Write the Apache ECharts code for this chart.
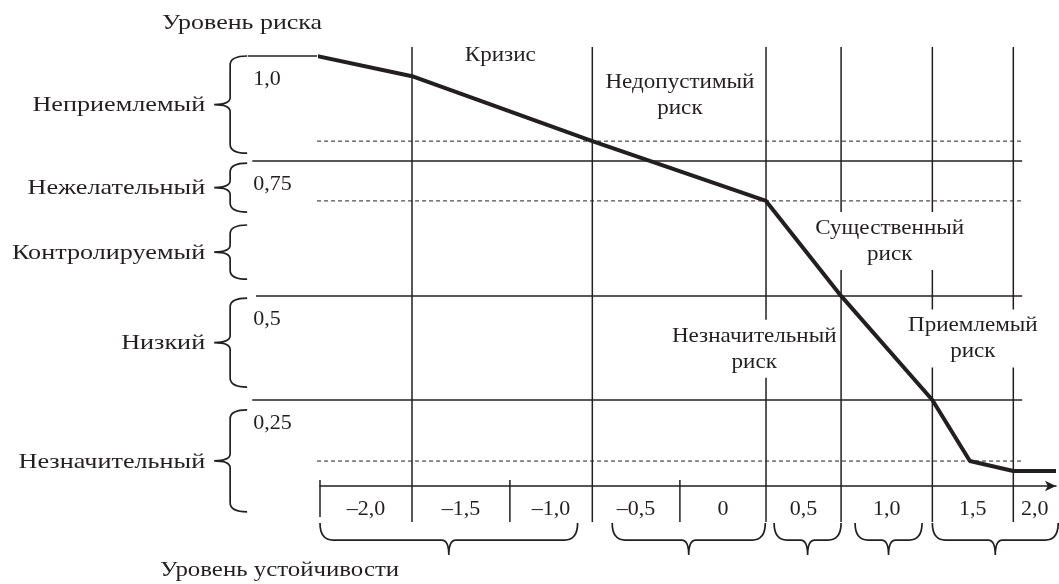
<!DOCTYPE html>
<html><head><meta charset="utf-8">
<script src="https://cdn.jsdelivr.net/npm/echarts@6/dist/echarts.min.js"></script>
<style>html,body{margin:0;background:#fff}#c{width:1059px;height:584px}</style>
</head><body><div id="c"></div>
<script>
// Schematic units: x 0..100 = stability axis (origin .. arrow), y 0..100 = risk axis (x-axis .. level 1,0)
const curveX = [-0.4, 12.5, 37.0, 60.6, 70.8, 83.2, 88.3, 94.2, 100];
const curveY = [100, 95.3, 80.2, 66.3, 44.2, 20.0, 5.8, 3.5, 3.5];

const levelLabels = ['1,0', '0,75', '0,5', '0,25'];
const levelPos = [100, 75.6, 44.2, 20.0];
const levelLineStart = [-9.8, -9.2, -8.7, -9.2];
const levelLineEnd = [-0.4, 95.4, 95.4, 95.4];
const dashedPos = [80.2, 66.3, 5.8];
const dashedRange = [-0.4, 95.4];

const zoneBounds = [12.5, 37.0, 60.6, 70.8, 83.2, 94.2];
const zoneTop = 102.1;
const tickBottom = -8.4;
const cellBounds = [0, 12.5, 25.8, 37.0, 48.9, 60.6, 70.8, 83.2, 94.2, 100];
const stabilityLabels = ['–2,0', '–1,5', '–1,0', '–0,5', '0', '0,5', '1,0', '1,5', '2,0'];
const stabilityGroups = [[0, 35.0], [39.7, 60.5], [61.7, 70.8], [72.7, 81.8], [83.2, 100.3]];

const riskCategories = ['Неприемлемый', 'Нежелательный', 'Контролируемый', 'Низкий', 'Незначительный'];
const riskSpans = [[100, 77.4], [75.1, 63.7], [60.7, 48.1], [43.7, 23.0], [17.7, -6.0]];
const braceX = -9.9;

const zoneNames = ['Кризис', 'Недопустимый\nриск', 'Незначительный\nриск', 'Существенный\nриск', 'Приемлемый\nриск'];
const zoneLabelX = [24.5, 48.9, 59.0, 77.4, 88.7];
const zoneLabelY = [100.2, 90.9, 31.9, 57.0, 34.3];

const INK = '#231f20';
const FF = '"Liberation Serif", "Times New Roman", serif';
const FONT = '22px ' + FF;

// straight segments (x1, y1, x2, y2) with their stroke kind
const segs = [], segKind = [];
levelPos.forEach((p, i) => { segs.push([levelLineStart[i], p, levelLineEnd[i], p]); segKind.push('solid'); });
dashedPos.forEach(p => { segs.push([dashedRange[0], p, dashedRange[1], p]); segKind.push('dash'); });
zoneBounds.forEach(b => { segs.push([b, zoneTop, b, tickBottom]); segKind.push('solid'); });
cellBounds.slice(0, -1).filter(b => zoneBounds.indexOf(b) < 0)
  .forEach(b => { segs.push([b, 1.4, b, b === 0 ? -7.2 : tickBottom]); segKind.push('solid'); });

const series = [];
series.push({
  type: 'custom', clip: false, silent: true, z: 2,
  data: segs,
  renderItem: function (params, api) {
    const a = api.coord([api.value(0), api.value(1)]);
    const b = api.coord([api.value(2), api.value(3)]);
    const dash = segKind[params.dataIndex] === 'dash';
    return {type: 'line', shape: {x1: a[0], y1: a[1], x2: b[0], y2: b[1]},
      style: {stroke: INK, lineWidth: dash ? 1 : 1.5, lineDash: dash ? [4, 3] : null}};
  }
});

series.push({type: 'line', data: curveX.map((x, i) => [x, curveY[i]]), symbol: 'none', clip: false,
  silent: true, lineStyle: {color: INK, width: 4, join: 'round'}, z: 8});

// left braces + risk category names
series.push({
  type: 'custom', clip: false, silent: true, z: 3,
  data: riskSpans,
  renderItem: function (params, api) {
    const p1 = api.coord([braceX, api.value(0)]);
    const p2 = api.coord([braceX, api.value(1)]);
    const x0 = p1[0], y1 = p1[1], y2 = p2[1];
    const vx = x0 - 17, ym = (y1 + y2) / 2, tip = 16, r = 9, r2 = 7;
    const d = `M${x0},${y1} Q${vx},${y1} ${vx},${y1 + r} L${vx},${ym - r2} Q${vx},${ym} ${vx - tip},${ym}` +
      ` Q${vx},${ym} ${vx},${ym + r2} L${vx},${y2 - r} Q${vx},${y2} ${x0},${y2}`;
    return {type: 'group', children: [
      {type: 'path', shape: {pathData: d}, style: {fill: 'none', stroke: INK, lineWidth: 1.7}},
      {type: 'text', x: vx - tip - 9, y: ym + 1, scaleX: 1.19,
        style: {text: riskCategories[params.dataIndex], x: 0, y: 0,
        align: 'right', verticalAlign: 'middle', font: FONT, fill: INK}}
    ]};
  }
});

// bottom braces
series.push({
  type: 'custom', clip: false, silent: true, z: 3,
  data: stabilityGroups,
  renderItem: function (params, api) {
    const p1 = api.coord([api.value(0), tickBottom]);
    const p2 = api.coord([api.value(1), tickBottom]);
    const x1 = p1[0], x2 = p2[0], y0 = p1[1] + 1, ya = y0 + 17, xm = (x1 + x2) / 2, tip = 15, r = 13, r2 = 7;
    const d = `M${x1},${y0} Q${x1},${ya} ${x1 + r},${ya} L${xm - r2},${ya} Q${xm},${ya} ${xm},${ya + tip}` +
      ` Q${xm},${ya} ${xm + r2},${ya} L${x2 - r},${ya} Q${x2},${ya} ${x2},${y0}`;
    return {type: 'path', shape: {pathData: d}, style: {fill: 'none', stroke: INK, lineWidth: 1.7}};
  }
});

// level labels
series.push({
  type: 'custom', clip: false, silent: true, z: 4,
  data: levelPos.map(p => [braceX, p]),
  renderItem: function (params, api) {
    const p = api.coord([api.value(0), api.value(1)]);
    return {type: 'text', style: {text: levelLabels[params.dataIndex], x: p[0] + 6, y: p[1] + 23,
      align: 'left', verticalAlign: 'middle', font: FONT, fill: INK}};
  }
});

// stability labels
series.push({
  type: 'custom', clip: false, silent: true, z: 4,
  data: stabilityLabels.map((s, i) => [(cellBounds[i] + cellBounds[i + 1]) / 2, 0]),
  renderItem: function (params, api) {
    const p = api.coord([api.value(0), api.value(1)]);
    return {type: 'text', style: {text: stabilityLabels[params.dataIndex], x: p[0], y: p[1] + 23,
      align: 'center', verticalAlign: 'middle', font: FONT, fill: INK}};
  }
});

// zone labels
series.push({
  type: 'custom', clip: false, silent: true, z: 6,
  data: zoneNames.map((n, i) => [zoneLabelX[i], zoneLabelY[i]]),
  renderItem: function (params, api) {
    const p = api.coord([api.value(0), api.value(1)]);
    return {type: 'text', x: p[0], y: p[1], scaleX: 1.05,
      style: {text: zoneNames[params.dataIndex], x: 0, y: 0,
      align: 'center', verticalAlign: 'middle', font: FONT, lineHeight: 26, fill: INK,
      backgroundColor: '#fff', padding: [3, 1]}};
  }
});

const chart = echarts.init(document.getElementById('c'), null, {renderer: 'canvas'});
chart.setOption({
  animation: false,
  backgroundColor: '#fff',
  grid: {left: 320, right: 3, top: 56, bottom: 98},
  xAxis: {type: 'value', min: 0, max: 100,
    axisLine: {show: true, symbol: ['none', 'arrow'], symbolSize: [8, 11], lineStyle: {color: INK, width: 1.5}},
    axisTick: {show: false}, axisLabel: {show: false}, splitLine: {show: false}},
  yAxis: {type: 'value', min: 0, max: 100, show: false, splitLine: {show: false}},
  graphic: [
    {type: 'text', x: 162, y: 23, scaleX: 1.18,
      style: {text: 'Уровень риска', x: 0, y: 0, verticalAlign: 'middle', font: FONT, fill: INK}},
    {type: 'text', x: 160, y: 570, scaleX: 1.13,
      style: {text: 'Уровень устойчивости', x: 0, y: 0, verticalAlign: 'middle', font: FONT, fill: INK}}
  ],
  series: series
});
</script></body></html>
